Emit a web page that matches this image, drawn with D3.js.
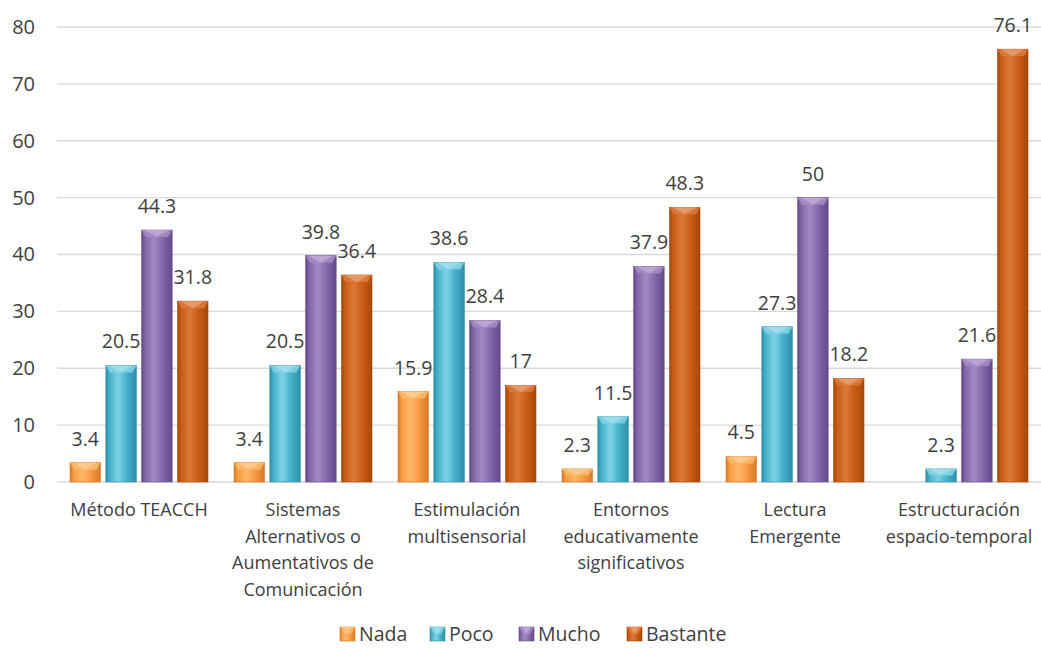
<!DOCTYPE html>
<html>
<head>
<meta charset="utf-8">
<script src="https://cdn.jsdelivr.net/npm/d3@7"></script>
<style>
  body { margin: 0; background: #fff; }
  text { font-family: "Open Sans", "Noto Sans", sans-serif; fill: #404040; }
</style>
</head>
<body>
<svg id="chart" width="1041" height="648"></svg>
<script>
// datos del grafico
const categories = ["Método TEACCH", "Sistemas Alternativos o Aumentativos de Comunicación",
    "Estimulación multisensorial", "Entornos educativamente significativos",
    "Lectura Emergente", "Estructuración espacio-temporal"];
const categoryLines = [
    ["Método TEACCH"],
    ["Sistemas", "Alternativos o", "Aumentativos de", "Comunicación"],
    ["Estimulación", "multisensorial"],
    ["Entornos", "educativamente", "significativos"],
    ["Lectura", "Emergente"],
    ["Estructuración", "espacio-temporal"]
];
const seriesNames = ["Nada", "Poco", "Mucho", "Bastante"];
const nada = [3.4, 3.4, 15.9, 2.3, 4.5, null];
const poco = [20.5, 20.5, 38.6, 11.5, 27.3, 2.3];
const mucho = [44.3, 39.8, 28.4, 37.9, 50, 21.6];
const bastante = [31.8, 36.4, 17, 48.3, 18.2, 76.1];
const yTicks = [0, 10, 20, 30, 40, 50, 60, 70, 80];

const seriesValues = [nada, poco, mucho, bastante];
// colores: [borde oscuro, medio, claro]
const colors = [
    ["#d9782a", "#f79a42", "#fbb868"],
    ["#2f8fa8", "#45b0cb", "#7fd3e6"],
    ["#654a8a", "#8366a8", "#a58ac4"],
    ["#a8470a", "#c95b12", "#db7a3a"]
];

const svg = d3.select("#chart");
const plotLeft = 57, plotRight = 1041, plotTop = 27, plotBottom = 482;

const x0 = d3.scaleBand().domain(categories).range([plotLeft, plotRight]);
const x1 = d3.scaleBand().domain(seriesNames)
    .range([13, x0.bandwidth() - 13]).paddingInner(0.15);
const y = d3.scaleLinear().domain([0, 80]).range([plotBottom, plotTop]);

// gradientes
const defs = svg.append("defs");
colors.forEach((c, i) => {
    let g = defs.append("linearGradient").attr("id", "grad" + i)
        .attr("x1", "0%").attr("x2", "100%").attr("y1", "0%").attr("y2", "0%");
    g.append("stop").attr("offset", "0%").attr("stop-color", c[0]);
    g.append("stop").attr("offset", "12%").attr("stop-color", c[1]);
    g.append("stop").attr("offset", "40%").attr("stop-color", c[2]);
    g.append("stop").attr("offset", "70%").attr("stop-color", c[1]);
    g.append("stop").attr("offset", "100%").attr("stop-color", c[0]);
});

// rejilla
svg.append("g").selectAll("line").data(yTicks).join("line")
    .attr("x1", plotLeft).attr("x2", plotRight)
    .attr("y1", d => y(d)).attr("y2", d => y(d))
    .attr("stroke", "#d9d9d9").attr("stroke-width", 1.3);

const yAxis = d3.axisLeft(y).tickValues(yTicks).tickSize(0).tickPadding(22);
svg.append("g").attr("transform", `translate(${plotLeft},0)`).call(yAxis)
    .call(g => g.select(".domain").remove())
    .selectAll("text").attr("font-size", 20).attr("fill", "#595959")
    .style("font-family", "'Open Sans', sans-serif");

function drawBar(g, xPos, w, yTop, h, si) {
    let c = colors[si];
    g.append("rect").attr("x", xPos).attr("y", yTop).attr("width", w).attr("height", h)
        .attr("fill", `url(#grad${si})`).attr("stroke", c[0]).attr("stroke-width", 0.6);
    let bev = Math.min(7, h / 2);
    // bisel superior
    g.append("path")
        .attr("d", `M${xPos},${yTop}L${xPos + w},${yTop}L${xPos + w - 4},${yTop + bev}L${xPos + 4},${yTop + bev}Z`)
        .attr("fill", c[2]).attr("opacity", 0.9);
    g.append("path")
        .attr("d", `M${xPos + 3},${yTop}L${xPos + w - 3},${yTop}L${xPos + w / 2},${yTop + bev}Z`)
        .attr("fill", "#fff").attr("opacity", 0.25);
}

// barras
categories.forEach((cat, ci) => {
    let g = svg.append("g").attr("transform", `translate(${x0(cat)},0)`);
    seriesNames.forEach((s, si) => {
        let v = seriesValues[si][ci];
        if (v == null) return;
        let bx = x1(s), bw = x1.bandwidth();
        drawBar(g, bx, bw, y(v), y(0) - y(v), si);
        g.append("text")
            .attr("x", bx + bw / 2)
            .attr("y", y(v) - 17)
            .attr("text-anchor", "middle")
            .attr("font-size", 19.5)
            .text(v);
    });
});

// etiquetas de categoria
categories.forEach((cat, ci) => {
    let t = svg.append("text")
        .attr("x", x0(cat) + x0.bandwidth() / 2)
        .attr("y", 516)
        .attr("text-anchor", "middle")
        .attr("font-size", 18);
    categoryLines[ci].forEach((line, li) => {
        t.append("tspan").attr("x", x0(cat) + x0.bandwidth() / 2)
            .attr("dy", li === 0 ? 0 : 26.5).text(line);
    });
});

// leyenda
const legendX = [340, 430, 519, 627];
seriesNames.forEach((s, si) => {
    let g = svg.append("g").attr("transform", `translate(${legendX[si]},627)`);
    drawBar(g, 0, 15, 0, 14, si);
    g.append("text").attr("x", 19).attr("y", 14).attr("font-size", 19.5).text(s);
});
</script>
</body>
</html>
